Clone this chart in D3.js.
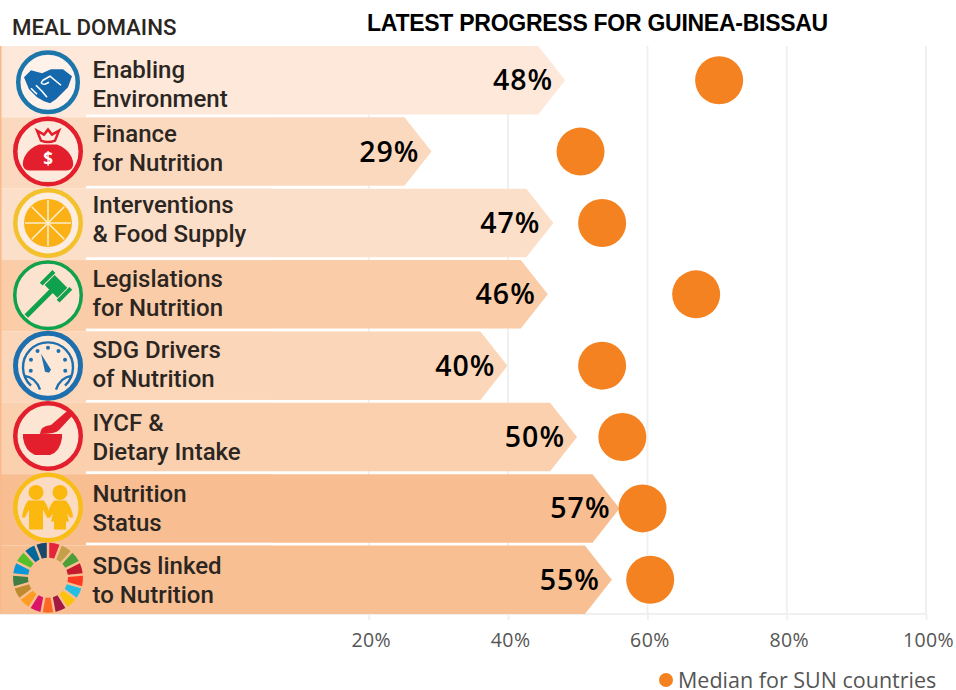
<!DOCTYPE html>
<html>
<head>
<meta charset="utf-8">
<script src="https://cdn.jsdelivr.net/npm/d3@7"></script>
<style>
  html, body { margin: 0; background: #fff; }
  svg { display: block; }
</style>
</head>
<body>
<div class="graph"><svg></svg></div>
<script>
const domains = [
  ['Enabling', 'Environment'],
  ['Finance', 'for Nutrition'],
  ['Interventions', '& Food Supply'],
  ['Legislations', 'for Nutrition'],
  ['SDG Drivers', 'of Nutrition'],
  ['IYCF &', 'Dietary Intake'],
  ['Nutrition', 'Status'],
  ['SDGs linked', 'to Nutrition']
]
// printed labels, and the bar lengths as they are drawn in the picture
const progress = [48, 29, 47, 46, 40, 50, 57, 55]
const barLengths = [48.2, 29, 46.5, 45.7, 39.9, 49.9, 56, 54.9]
const medians = [70.3, 50.4, 53.5, 67, 53.5, 56.4, 59.3, 60.4]
const tickValues = [20, 40, 60, 80, 100]
const rowFills = ['#fde8d9', '#fbd9bf', '#fcdfc9', '#facca8', '#fbd6b9', '#fad0ae', '#f8be91', '#f8bf92']
const sdgColors = ['#e5243b', '#c5a04a', '#4c9f38', '#c5192d', '#ff3a21', '#26bde2', '#fcc30b', '#a21942', '#fd6925', '#dd1367', '#fd9d24', '#bf8b2e', '#3f7e44', '#0a97d9', '#56c02b', '#00689d', '#19486a']

const width = 956
const height = 690
const panelWidth = 272
// the row names and icons of the source panel do not sit exactly on the row centres
const labelShift = [0, -7, -8, -5, -5, -4, -4, -3]
const iconShift = [2, 0, 0, 1, 0, -1, -1, -2]
const valueShift = [0, 0, -1, 0, 0, 0, 3, 0]

const bodyFont = '"Open Sans", sans-serif'
const panelFont = 'Roboto, sans-serif'
const panelInk = '#2b2622'

const x = d3.scaleLinear().domain([0, 100]).range([229.5, 926])
const y = d3.scaleBand().domain(d3.range(domains.length)).range([46, 614]).paddingInner(0.04)

const svg = d3.select('.graph').select('svg')
  .attr('width', width)
  .attr('height', height)

/**
 * Draws the vertical grid lines and the x axis under the plot.
 *
 * @param {*} g The d3 Selection of the root element
 */
function drawAxis (g) {
  const axis = g.append('g')
    .attr('class', 'x axis')
    .attr('transform', 'translate(0, 614)')
    .call(d3.axisBottom(x)
      .tickValues(tickValues)
      .tickSize(6)
      .tickFormat(d => d + '%'))
  axis.select('.domain').attr('stroke', '#f0f0f0').attr('stroke-width', 2).attr('d', 'M0,0H926')
  axis.selectAll('line').attr('stroke', '#f0f0f0').attr('stroke-width', 2)
  axis.selectAll('text')
    .attr('dx', 2)
    .attr('y', 33)
    .attr('dy', 0)
    .attr('fill', '#555')
    .attr('font-size', 19.5)
    .attr('letter-spacing', 0.4)
    .attr('font-family', bodyFont)

  g.append('g').selectAll('line')
    .data(tickValues)
    .join('line')
    .attr('x1', d => x(d))
    .attr('x2', d => x(d))
    .attr('y1', 46)
    .attr('y2', 614)
    .attr('stroke', '#f0f0f0')
    .attr('stroke-width', 2)
}

/**
 * Draws the arrow shaped bars and their value labels.
 *
 * @param {*} g The d3 Selection of the root element
 */
function drawBars (g) {
  const tip = 27
  g.append('g').selectAll('path')
    .data(barLengths)
    .join('path')
    .attr('fill', (d, i) => rowFills[i])
    .attr('d', (d, i) => {
      const top = y(i)
      const bottom = top + y.bandwidth()
      const end = x(d)
      return 'M' + panelWidth + ',' + top + 'L' + (end - tip) + ',' + top +
        'L' + end + ',' + (top + y.bandwidth() / 2) +
        'L' + (end - tip) + ',' + bottom + 'L' + panelWidth + ',' + bottom + 'Z'
    })

  g.append('g').selectAll('text')
    .data(progress)
    .join('text')
    .text(d => d + '%')
    .attr('x', (d, i) => x(barLengths[i]) - 12 + valueShift[i])
    .attr('y', (d, i) => y(i) + y.bandwidth() / 2 + 10)
    .attr('text-anchor', 'end')
    .attr('font-size', 28.5)
    .attr('font-weight', 600)
    .attr('letter-spacing', 1)
    .attr('font-family', bodyFont)
    .attr('fill', '#000')
}

/**
 * Draws the median dots.
 *
 * @param {*} g The d3 Selection of the root element
 */
function drawDots (g) {
  g.append('g').selectAll('circle')
    .data(medians)
    .join('circle')
    .attr('cx', d => x(d))
    .attr('cy', (d, i) => y(i) + y.bandwidth() / 2)
    .attr('r', 24)
    .attr('fill', '#f58220')
}

/**
 * Draws the left hand panel with the row backgrounds and domain names.
 *
 * @param {*} g The d3 Selection of the root element
 */
function drawPanel (g) {
  const rows = g.append('g').selectAll('g')
    .data(domains)
    .join('g')
    .attr('transform', (d, i) => 'translate(0,' + y(i) + ')')

  rows.append('rect')
    .attr('x', 0)
    .attr('y', 0)
    .attr('width', panelWidth)
    .attr('height', (d, i) => i === domains.length - 1 ? y.bandwidth() : y.step())
    .attr('fill', (d, i) => rowFills[i])
  rows.append('rect')
    .attr('x', 86)
    .attr('y', y.bandwidth())
    .attr('width', panelWidth - 86)
    .attr('height', y.step() - y.bandwidth())
    .attr('fill', (d, i) => i === domains.length - 1 ? 'none' : '#fff')

  g.append('rect')
    .attr('x', 0)
    .attr('y', 46)
    .attr('width', 1.5)
    .attr('height', 568)
    .attr('fill', '#f9b98a')

  rows.append('text')
    .text(d => d[0])
    .attr('x', 92.5)
    .attr('y', (d, i) => 32 + labelShift[i])
    .attr('font-size', 24)
    .attr('font-weight', 500)
    .attr('font-family', panelFont)
    .attr('fill', panelInk)
  rows.append('text')
    .text(d => d[1])
    .attr('x', 92.5)
    .attr('y', (d, i) => 61 + labelShift[i])
    .attr('font-size', 24)
    .attr('font-weight', 500)
    .attr('font-family', panelFont)
    .attr('fill', panelInk)
}

/**
 * Appends a ring to an icon.
 *
 * @param {*} g The icon's g element
 * @param {string} color The ring colour
 * @param {number} r The outer radius
 * @param {number} w The ring width
 */
function ring (g, color, r, w) {
  g.append('circle')
    .attr('r', r - w / 2)
    .attr('fill', '#fff')
    .attr('fill-opacity', 0.45)
    .attr('stroke', color)
    .attr('stroke-width', w)
}

const iconDrawers = [
  g => {
    const c = '#1668ad'
    ring(g, '#1c76ab', 32, 4.5)
    g.append('path').attr('fill', c)
      .attr('d', 'M-24,-5L-17,-12L-6,-9L3,-13L15,-13L24,-6L20,5L8,17L2,21L-4,19L-11,15L-19,7Z')
    g.append('path').attr('fill', 'none').attr('stroke', '#fff').attr('stroke-width', 1.6)
      .attr('d', 'M13,3L2,-6L-5,-2Q-9,2 -3,2L1,0M-17,6L-11,12M-12,3L-5,10M-6,9L-1,15')
  },
  g => {
    const c = '#e31f2d'
    ring(g, c, 35, 4.5)
    g.append('path').attr('fill', c)
      .attr('d', 'M-9,-7C-22,-2 -26,8 -25,14Q-24,19 -18,19H18Q24,19 25,14C26,8 22,-2 9,-7Z')
    g.append('path').attr('fill', 'none').attr('stroke', c).attr('stroke-width', 2.5)
      .attr('d', 'M-7,-11L-11,-21L-4,-17L0,-22L4,-17L11,-21L7,-11Q0,-8 -7,-11Z')
    g.append('text').text('$').attr('text-anchor', 'middle').attr('y', 13)
      .attr('font-size', 17).attr('font-weight', 700).attr('font-family', bodyFont).attr('fill', '#fff')
  },
  g => {
    const c = '#fbb116'
    ring(g, '#f4c12e', 35, 4.5)
    g.append('circle').attr('r', 24).attr('fill', c)
    d3.range(4).forEach(i => {
      g.append('line')
        .attr('x1', -23).attr('x2', 23)
        .attr('transform', 'rotate(' + (i * 45) + ')')
        .attr('stroke', '#fdeecb').attr('stroke-width', 1.6)
    })
  },
  g => {
    const c = '#0fa14b'
    ring(g, c, 35, 3.5)
    g.append('path').attr('fill', c).attr('transform', 'translate(8,-9) rotate(45)')
      .attr('d', 'M-9,-7H9V7H-9ZM-14,-9H-10V9H-14ZM10,-9H14V9H10ZM-2.5,7H2.5V42H-2.5Z')
  },
  g => {
    const c = '#1d70ad'
    ring(g, c, 35, 5)
    g.append('path').attr('fill', 'none').attr('stroke', c).attr('stroke-width', 2.4)
      .attr('d', 'M-17,20A25,25 0 1 1 17,20M-24,10Q-12,12 -8,24M24,10Q12,12 8,24')
    d3.range(7).forEach(i => {
      const a = (i - 3) * 0.62
      g.append('circle')
        .attr('cx', 18 * Math.sin(a))
        .attr('cy', -18 * Math.cos(a))
        .attr('r', 2)
        .attr('fill', c)
    })
    g.append('path').attr('fill', c).attr('d', 'M-7,-12L3,4L1,7L-3,6Z')
  },
  g => {
    const c = '#e31f2d'
    ring(g, c, 35, 4.5)
    g.append('path').attr('fill', c)
      .attr('d', 'M-25,-2H14V2Q12,16 2,19H-13Q-23,15 -25,2Z')
    g.append('path').attr('fill', c)
      .attr('d', 'M-8,-2Q-8,-10 3,-11L18,-24Q23,-25 24,-20L11,-6Q8,-2 -8,-2Z')
  },
  g => {
    const c = '#fbb80f'
    ring(g, '#f9bd17', 35, 4.5)
    ;[-12, 12].forEach((cx, i) => {
      const kid = g.append('g').attr('transform', 'translate(' + cx + ',0)')
      kid.append('circle').attr('cy', -15).attr('r', 7.5).attr('fill', c)
      kid.append('path').attr('fill', c)
        .attr('d', i === 0
          ? 'M-8,-7H8Q13,0 14,10L11,10L7,2V22H-7V2L-11,10L-14,10Q-13,0 -8,-7Z'
          : 'M-6,-7H6Q12,0 13,10L10,10L7,6L9,14H6V22H-6V14H-9L-7,6L-10,10L-13,10Q-12,0 -6,-7Z')
    })
  },
  g => {
    const arc = d3.arc().innerRadius(20).outerRadius(35).padAngle(0.06)
    const pie = d3.pie().value(1).sort(null).startAngle(0).endAngle(2 * Math.PI)
    g.append('g').selectAll('path')
      .data(pie(sdgColors))
      .join('path')
      .attr('d', arc)
      .attr('fill', (d, i) => sdgColors[i])
  }
]

/**
 * Draws the icon for each domain.
 *
 * @param {*} g The d3 Selection of the root element
 */
function drawIcons (g) {
  iconDrawers.forEach((draw, i) => {
    const icon = g.append('g')
      .attr('transform', 'translate(48,' + (y(i) + y.bandwidth() / 2 + iconShift[i]) + ')')
    draw(icon)
  })
}

/**
 * Appends the titles and the legend.
 *
 * @param {*} g The d3 Selection of the root element
 */
function drawLabels (g) {
  g.append('text')
    .text('LATEST PROGRESS FOR GUINEA-BISSAU')
    .attr('x', 597.5)
    .attr('y', 31)
    .attr('text-anchor', 'middle')
    .attr('font-size', 23)
    .attr('font-weight', 700)
    .attr('letter-spacing', -0.27)
    .attr('font-family', '"Liberation Sans Narrow", sans-serif')
    .attr('fill', '#000')

  g.append('text')
    .text('MEAL DOMAINS')
    .attr('x', 12)
    .attr('y', 35)
    .attr('font-size', 22.3)
    .attr('font-weight', 500)
    .attr('font-family', panelFont)
    .attr('fill', panelInk)

  g.append('circle')
    .attr('cx', 666)
    .attr('cy', 680)
    .attr('r', 7)
    .attr('fill', '#f58220')

  g.append('text')
    .text('Median for SUN countries')
    .attr('x', 678)
    .attr('y', 688)
    .attr('font-size', 21.5)
    .attr('font-family', bodyFont)
    .attr('fill', '#555')
}

drawAxis(svg)
drawBars(svg)
drawDots(svg)
drawPanel(svg)
drawIcons(svg)
drawLabels(svg)
</script>
</body>
</html>
